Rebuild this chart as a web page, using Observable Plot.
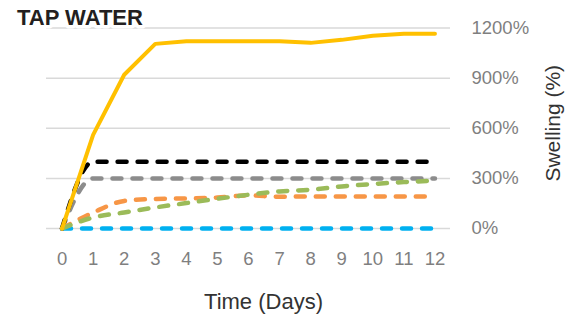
<!DOCTYPE html>
<html>
<head>
<meta charset="utf-8">
<script src="https://cdn.jsdelivr.net/npm/d3@7"></script>
<script src="https://cdn.jsdelivr.net/npm/@observablehq/plot@0.6"></script>
<style>
  html, body { margin: 0; padding: 0; background: #fff; }
  #chart svg { display: block; }
</style>
</head>
<body>
<div id="chart"></div>
<script>
// ---- data ----
const days = [0, 1, 2, 3, 4, 5, 6, 7, 8, 9, 10, 11, 12];
const yTicks = [0, 300, 600, 900, 1200];
const seriesNames = ["blue", "gray", "black", "orange", "green", "yellow"];
const blueVals   = [0, 0, 0, 0, 0, 0, 0, 0, 0, 0, 0, 0, 0];
const grayVals   = [0, 300, 300, 300, 300, 300, 300, 300, 300, 300, 300, 300, 300];
const blackVals  = [0, 400, 400, 400, 400, 400, 400, 400, 400, 400, 400, 400, 400];
const orangeVals = [0, 95, 165, 177, 180, 185, 198, 190, 192, 192, 192, 192, 192];
const greenVals  = [0, 66, 96, 126, 152, 178, 202, 222, 232, 252, 266, 278, 286];
const yellowVals = [0, 560, 920, 1105, 1120, 1120, 1120, 1120, 1111, 1129, 1153, 1166, 1166];
const titleText = "TAP WATER";
const xLabel = "Time (Days)";
const yLabel = "Swelling (%)";

const valuesBySeries = {blue: blueVals, gray: grayVals, black: blackVals, orange: orangeVals, green: greenVals, yellow: yellowVals};
const colors = {blue: "#00B0F0", gray: "#8C8C8C", black: "#000000", orange: "#F79646", green: "#9BBB59", yellow: "#FFC000"};

function seriesData(name) {
  return days.map((d, i) => ({day: d, value: valuesBySeries[name][i], series: name}));
}

const lineMarks = seriesNames.map(name => Plot.line(seriesData(name), {
  x: "day", y: "value",
  stroke: colors[name],
  strokeWidth: name === "yellow" ? 4 : 4.5,
  strokeDasharray: name === "yellow" ? null : "9,11",
  strokeLinecap: "round",
  strokeLinejoin: "round",
  curve: name === "yellow" ? "linear" : "monotone-x"
}));

const chart = Plot.plot({
  width: 577,
  height: 315,
  marginLeft: 46,
  marginRight: 127,
  marginTop: 27.5,
  marginBottom: 87,
  style: {fontFamily: "'Liberation Sans', Arial, sans-serif", background: "#fff", overflow: "visible"},
  x: {domain: [-0.5, 12.5]},
  y: {domain: [0, 1200]},
  marks: [
    Plot.ruleY(yTicks, {stroke: "#d9d9d9", strokeWidth: 1.5}),
    Plot.axisX({ticks: days, tickSize: 0, tickPadding: 23, fontSize: 18.5, color: "#7f7f7f", label: null, tickFormat: d => String(d)}),
    Plot.axisY({anchor: "right", ticks: yTicks, tickSize: 0, tickPadding: 21, fontSize: 18.5, color: "#7f7f7f", label: null, tickFormat: d => d + "%"}),
    ...lineMarks,
    Plot.text([xLabel], {frameAnchor: "bottom", dx: 15, dy: 73, fontSize: 22, fill: "#333", textAnchor: "middle", lineAnchor: "middle"}),
    Plot.text([yLabel], {frameAnchor: "right", dx: 103, dy: -5, rotate: -90, fontSize: 21, fill: "#333", textAnchor: "middle", lineAnchor: "middle"}),
    Plot.text([titleText], {frameAnchor: "top-left", dx: -29.5, dy: -10, fontSize: 22, fontWeight: "bold", fill: "#231f20", textAnchor: "start", lineAnchor: "middle", stroke: "#fff", strokeWidth: 7, paintOrder: "stroke"})
  ]
});
document.getElementById("chart").appendChild(chart);
</script>
</body>
</html>
